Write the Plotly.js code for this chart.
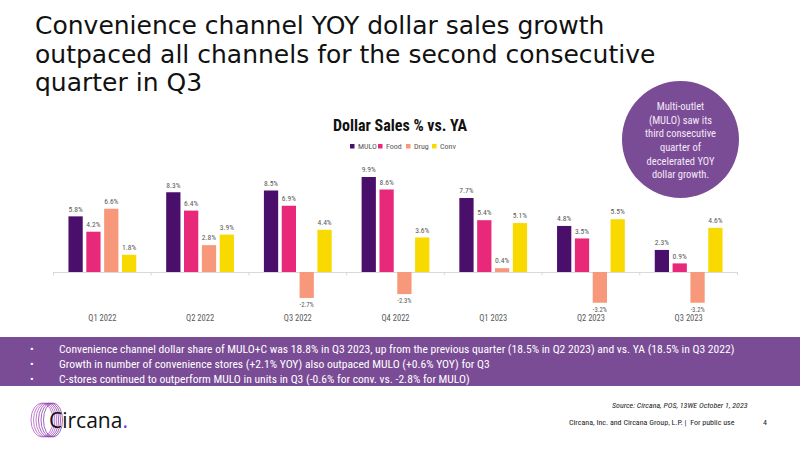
<!DOCTYPE html>
<html>
<head>
<meta charset="utf-8">
<script src="https://cdn.plot.ly/plotly-3.0.1.min.js"></script>
<style>html,body{margin:0;padding:0;background:#fff;}#chart{width:800px;height:450px;}</style>
</head>
<body>
<div id="chart"></div>
<script>
const quarters = ["Q1 2022","Q2 2022","Q3 2022","Q4 2022","Q1 2023","Q2 2023","Q3 2023"];
const mulo = [5.8, 8.3, 8.5, 9.9, 7.7, 4.8, 2.3];
const food = [4.2, 6.4, 6.9, 8.6, 5.4, 3.5, 0.9];
const drug = [6.6, 2.8, -2.7, -2.3, 0.4, -3.2, -3.2];
const conv = [1.8, 3.9, 4.4, 3.6, 5.1, 5.5, 4.6];
const seriesNames = ["MULO","Food","Drug","Conv"];
const seriesColors = ["#4A0F6A","#E8297A","#F7987A","#F8D900"];
const titleLines = [
  "Convenience channel YOY dollar sales growth",
  "outpaced all channels for the second consecutive",
  "quarter in Q3"
];
const bullets = [
  "Convenience channel dollar share of MULO+C was 18.8% in Q3 2023, up from the previous quarter (18.5% in Q2 2023) and vs. YA (18.5% in Q3 2022)",
  "Growth in number of convenience stores (+2.1% YOY) also outpaced MULO (+0.6% YOY) for Q3",
  "C-stores continued to outperform MULO in units in Q3 (-0.6% for conv. vs. -2.8% for MULO)"
];

const narrow = '"Liberation Sans Narrow", "Roboto Condensed", "DejaVu Sans Condensed", Roboto, sans-serif';
const W = 800, H = 450;
const px = x => x / W;
const py = y => 1 - y / H;

const allSeries = [mulo, food, drug, conv];
const traces = allSeries.map((vals, i) => ({
  type: 'bar',
  name: seriesNames[i],
  x: quarters,
  y: vals,
  marker: {color: seriesColors[i]},
  texttemplate: '%{y:.1f}%',
  textposition: 'outside',
  textfont: {family: narrow, size: 8.5, color: '#595959'},
  cliponaxis: false,
  hoverinfo: 'none',
  showlegend: false
}));

const shapes = [];
// circle callout
shapes.push({type: 'circle', xref: 'paper', yref: 'paper', layer: 'below',
  x0: px(622), x1: px(739), y0: py(198), y1: py(81),
  fillcolor: '#7B4C96', line: {width: 0}});
// bottom purple band
shapes.push({type: 'rect', xref: 'paper', yref: 'paper', layer: 'below',
  x0: 0, x1: 1, y0: py(386), y1: py(337), fillcolor: '#7B4C96', line: {width: 0}});
// category boundary ticks on zero line
for (let i = 0; i <= quarters.length; i++) {
  shapes.push({type: 'line', xref: 'x', yref: 'y', x0: i - 0.5, x1: i - 0.5, y0: 0, y1: -0.35,
    line: {color: '#D9D9D9', width: 1}});
}
// logo coil
for (let k = 0; k < 6; k++) {
  const cx = 42 + k * 2.2;
  shapes.push({type: 'circle', xref: 'paper', yref: 'paper',
    x0: px(cx - 11 + k*0.3), x1: px(cx + 11 - k*0.3), y0: py(437), y1: py(403),
    line: {color: k < 3 ? '#B45CC8' : '#8A3FA8', width: 0.8}});
}

const annotations = [];
// slide title, one line per annotation for tight line spacing
titleLines.forEach((t, i) => {
  annotations.push({xref: 'paper', yref: 'paper', x: px(33), y: py(25 + i * 29), xanchor: 'left', yanchor: 'middle', align: 'left',
    text: t, showarrow: false, font: {family: '"DejaVu Sans", sans-serif', size: 25, color: '#111111'}});
});
annotations.push({xref: 'paper', yref: 'paper', x: px(400), y: py(125), xanchor: 'center', yanchor: 'middle',
  text: '<b>Dollar Sales % vs. YA</b>', showarrow: false,
  font: {family: narrow, size: 16, color: '#111111'}});
// legend (compact, drawn from series names/colours)
const legX = [350, 378, 406, 432];
seriesNames.forEach((n, i) => {
  shapes.push({type: 'rect', xref: 'paper', yref: 'paper',
    x0: px(legX[i]), x1: px(legX[i] + 4.5), y0: py(148.5), y1: py(144), fillcolor: seriesColors[i], line: {width: 0}});
  annotations.push({xref: 'paper', yref: 'paper', x: px(legX[i] + 5.5), y: py(146.5), xanchor: 'left', yanchor: 'middle',
    text: n, showarrow: false, font: {family: narrow, size: 8, color: '#595959'}});
});
annotations.push({xref: 'paper', yref: 'paper', x: px(680), y: py(140), xanchor: 'center', yanchor: 'middle',
  text: 'Multi-outlet<br>(MULO) saw its<br>third consecutive<br>quarter of<br>decelerated YOY<br>dollar growth.',
  showarrow: false, align: 'center',
  font: {family: narrow, size: 10.5, color: '#F5E8F8'}});
bullets.forEach((b, i) => {
  annotations.push({xref: 'paper', yref: 'paper', x: px(28), y: py(349 + i * 15), xanchor: 'left', yanchor: 'middle',
    text: '•', showarrow: false, font: {family: narrow, size: 11, color: '#FFFFFF'}});
  annotations.push({xref: 'paper', yref: 'paper', x: px(57), y: py(349 + i * 15), xanchor: 'left', yanchor: 'middle',
    text: b, showarrow: false, font: {family: narrow, size: 11.6, color: '#FFFFFF'}});
});
annotations.push({xref: 'paper', yref: 'paper', x: px(750), y: py(405), xanchor: 'right', yanchor: 'middle',
  text: '<i>Source: Circana, POS, 13WE October 1, 2023</i>', showarrow: false,
  font: {family: narrow, size: 8, color: '#222222'}});
annotations.push({xref: 'paper', yref: 'paper', x: px(737), y: py(422), xanchor: 'right', yanchor: 'middle',
  text: 'Circana, Inc. and Circana Group, L.P. |  For public use', showarrow: false,
  font: {family: narrow, size: 8, color: '#222222'}});
annotations.push({xref: 'paper', yref: 'paper', x: px(765), y: py(422), xanchor: 'center', yanchor: 'middle',
  text: '4', showarrow: false, font: {family: narrow, size: 8, color: '#222222'}});
annotations.push({xref: 'paper', yref: 'paper', x: px(47), y: py(420), xanchor: 'left', yanchor: 'middle',
  text: 'Circana<span style="color:#8A2BE2">.</span>', showarrow: false,
  font: {family: '"Open Sans", sans-serif', size: 21, color: '#111111'}});

const layout = {
  width: W, height: H, autosize: false,
  margin: {l: 0, r: 0, t: 0, b: 0},
  paper_bgcolor: '#FFFFFF', plot_bgcolor: 'rgba(0,0,0,0)',
  barmode: 'group', bargap: 0.27, bargroupgap: 0.2,
  xaxis: {domain: [px(53), px(738)], type: 'category', showgrid: false, showline: false, zeroline: false,
    ticks: '', tickfont: {family: narrow, size: 8.5, color: '#595959'}, fixedrange: true},
  yaxis: {domain: [py(311), py(165)], range: [-4.06, 11.15], showgrid: false, zeroline: true,
    zerolinecolor: '#D9D9D9', zerolinewidth: 1, showticklabels: false, ticks: '', showline: false, fixedrange: true},
  showlegend: false,
  shapes: shapes,
  annotations: annotations
};

Plotly.newPlot('chart', traces, layout, {displayModeBar: false, staticPlot: true});
</script>
</body>
</html>
